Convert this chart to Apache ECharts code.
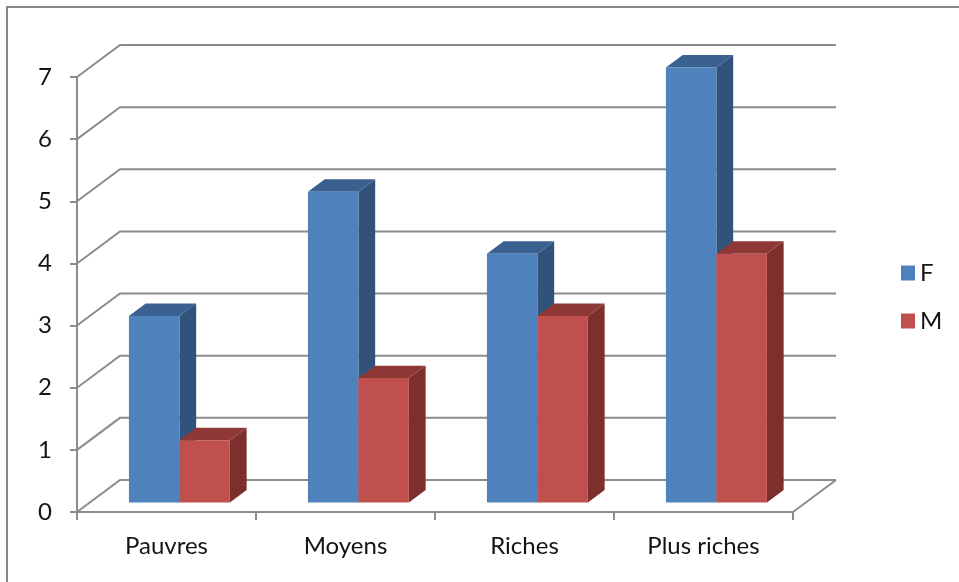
<!DOCTYPE html>
<html>
<head>
<meta charset="utf-8">
<title>F / M par niveau de richesse</title>
<script src="https://cdn.jsdelivr.net/npm/echarts@6/dist/echarts.min.js"></script>
<style>
  html, body { margin: 0; padding: 0; background: #ffffff; }
  #chart { width: 959px; height: 582px; }
</style>
</head>
<body>
<div id="chart"></div>
<script>
// Catégories et valeurs
const categories = ['Pauvres', 'Moyens', 'Riches', 'Plus riches'];
const seriesNames = ['F', 'M'];
const valuesF = [3, 5, 4, 7];
const valuesM = [1, 2, 3, 4];
const yTicks = [0, 1, 2, 3, 4, 5, 6, 7];

// Pseudo-3D geometry: depth of the floor / back wall in pixels
const DEPTH_X = 43;
const DEPTH_Y = -32;
const BAR_FRONT = 0.3;   // bar front face, as fraction of depth
const BAR_DEPTH = 0.39;  // bar thickness, as fraction of depth
const BAR_WIDTH = 0.282; // bar width, as fraction of category band

const GRID_COLOR = '#8c8c8c';
const FONT = 'Lato, "Open Sans", sans-serif';
const TEXT_COLOR = '#141414';

const faces = {
  F: { front: '#4F81BD', top: '#3B6190', side: '#31527A' },
  M: { front: '#C0504D', top: '#8E3836', side: '#7D2F2D' }
};

const chart = echarts.init(document.getElementById('chart'), null, { renderer: 'canvas' });

// Back wall gridlines plus the floor outline
function renderWall(params, api) {
  const v = api.value(1);
  const band = api.size([1, 0])[0];
  const first = api.coord([0, v]);
  const last = api.coord([categories.length - 1, v]);
  const x0 = first[0] - band / 2;
  const x1 = last[0] + band / 2;
  const y = first[1];
  const style = { stroke: GRID_COLOR, lineWidth: 2, fill: null };
  const children = [{
    type: 'polyline',
    shape: { points: [[x0, y], [x0 + DEPTH_X, y + DEPTH_Y], [x1 + DEPTH_X, y + DEPTH_Y]] },
    style: style
  }];
  if (v === 0) {
    children.push({
      type: 'line',
      shape: { x1: x1, y1: y, x2: x1 + DEPTH_X, y2: y + DEPTH_Y },
      style: style
    });
  }
  return { type: 'group', children: children };
}

// Box-shaped bar: front face, top and right side
function makeBarRenderer(name, side) {
  const c = faces[name];
  return function (params, api) {
    const cat = api.value(0);
    const val = api.value(1);
    const base = api.coord([cat, 0]);
    const head = api.coord([cat, val]);
    const w = api.size([1, 0])[0] * BAR_WIDTH;
    const fx = BAR_FRONT * DEPTH_X, fy = BAR_FRONT * DEPTH_Y;
    const dx = BAR_DEPTH * DEPTH_X, dy = BAR_DEPTH * DEPTH_Y;
    const xl = base[0] + fx + (side < 0 ? -w : 0);
    const xr = xl + w;
    const yb = base[1] + fy;
    const yt = head[1] + fy;
    return {
      type: 'group',
      children: [
        { type: 'polygon', shape: { points: [[xr, yt], [xr + dx, yt + dy], [xr + dx, yb + dy], [xr, yb]] },
          style: { fill: c.side } },
        { type: 'polygon', shape: { points: [[xl, yt], [xl + dx, yt + dy], [xr + dx, yt + dy], [xr, yt]] },
          style: { fill: c.top } },
        { type: 'rect', shape: { x: xl, y: yt, width: w, height: yb - yt },
          style: { fill: c.front } }
      ]
    };
  };
}

const option = {
  backgroundColor: '#ffffff',
  animation: false,
  grid: { left: 77, right: 166, top: 77, bottom: 70, containLabel: false },
  legend: {
    data: seriesNames,
    orient: 'vertical',
    left: 896,
    top: 254,
    itemWidth: 14,
    itemHeight: 15,
    itemGap: 20,
    icon: 'rect',
    textStyle: { fontFamily: FONT, fontSize: 24, lineHeight: 28, color: TEXT_COLOR }
  },
  xAxis: {
    type: 'category',
    data: categories,
    axisLine: { show: true, lineStyle: { color: GRID_COLOR, width: 2 } },
    axisTick: { show: true, length: 8, lineStyle: { color: GRID_COLOR, width: 2 } },
    axisLabel: { fontFamily: FONT, fontSize: 24, color: TEXT_COLOR, margin: 22 },
    splitLine: { show: false }
  },
  yAxis: {
    type: 'value',
    min: 0,
    max: 7,
    interval: 1,
    axisLine: { show: true, lineStyle: { color: GRID_COLOR, width: 2 } },
    axisTick: { show: true, length: 7, lineStyle: { color: GRID_COLOR, width: 2 } },
    axisLabel: { fontFamily: FONT, fontSize: 24, color: TEXT_COLOR, margin: 25 },
    splitLine: { show: false }
  },
  graphic: [
    { type: 'polyline', shape: { points: [[7, 600], [7, 7], [980, 7]] },
      style: { stroke: '#878787', lineWidth: 2, fill: null }, silent: true }
  ],
  series: [
    {
      type: 'custom',
      name: 'wall',
      renderItem: renderWall,
      data: yTicks.map(v => [0, v]),
      clip: false,
      silent: true,
      z: 1
    },
    {
      type: 'custom',
      name: 'F',
      renderItem: makeBarRenderer('F', -1),
      itemStyle: { color: faces.F.front },
      data: valuesF.map((v, i) => [i, v]),
      clip: false,
      z: 2
    },
    {
      type: 'custom',
      name: 'M',
      renderItem: makeBarRenderer('M', 1),
      itemStyle: { color: faces.M.front },
      data: valuesM.map((v, i) => [i, v]),
      clip: false,
      z: 3
    }
  ]
};

chart.setOption(option);
</script>
</body>
</html>
